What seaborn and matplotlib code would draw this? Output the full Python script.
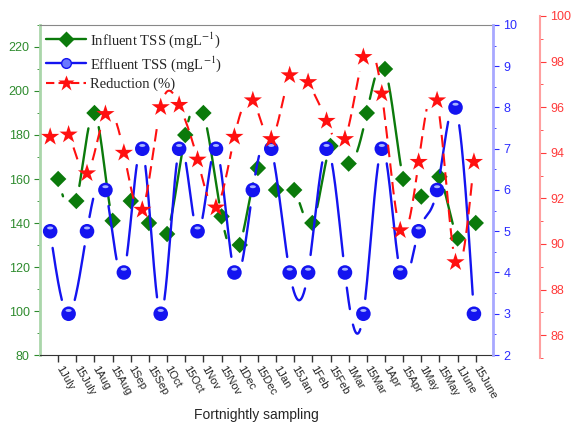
import numpy as np
import matplotlib
matplotlib.use("Agg")
import matplotlib.pyplot as plt
import seaborn as sns
from matplotlib.lines import Line2D
from matplotlib.path import Path
from matplotlib.ticker import MultipleLocator

# -----------------------------
# Data
# -----------------------------
dates = ["1July", "15July", "1Aug", "15Aug", "1Sep", "15Sep", "1Oct", "15Oct",
         "1Nov", "15Nov", "1Dec", "15Dec", "1Jan", "15Jan", "1Feb", "15Feb",
         "1Mar", "15Mar", "1Apr", "15Apr", "1May", "15May", "1June", "15June"]
influent = [160, 150, 190, 141, 150, 140, 135, 180, 190, 143, 130, 165,
            155, 155, 140, 175, 167, 190, 210, 160, 152, 161, 133, 140]
effluent = [5, 3, 5, 6, 4, 7, 3, 7, 5, 7, 4, 6,
            7, 4, 4, 7, 4, 3, 7, 4, 5, 6, 8, 3]
reduction = [94.7, 94.8, 93.1, 95.7, 94.0, 91.5, 96.0, 96.1, 93.7, 91.6, 94.7, 96.3,
             94.6, 97.4, 97.1, 95.4, 94.6, 98.2, 96.6, 90.6, 93.6, 96.3, 89.2, 93.6]

GREEN = "#0b7a0b"
BLUE = "#1414f0"
RED = "#ff1010"

# -----------------------------
# Style
# -----------------------------
sns.set_style("ticks")
plt.rcParams["font.family"] = ["Liberation Sans", "DejaVu Sans"]
plt.rcParams["mathtext.fontset"] = "stix"


def spline(x, y, n=30):
    # natural cubic spline, used only to draw the smooth connecting line
    x = np.asarray(x, float)
    y = np.asarray(y, float)
    h = np.diff(x)
    m = len(x)
    A = np.zeros((m, m))
    r = np.zeros(m)
    A[0, 0] = A[-1, -1] = 1
    for i in range(1, m - 1):
        A[i, i - 1] = h[i - 1]
        A[i, i] = 2 * (h[i - 1] + h[i])
        A[i, i + 1] = h[i]
        r[i] = 3 * ((y[i + 1] - y[i]) / h[i] - (y[i] - y[i - 1]) / h[i - 1])
    c = np.linalg.solve(A, r)
    xs, ys = [], []
    for i in range(m - 1):
        b = (y[i + 1] - y[i]) / h[i] - h[i] * (2 * c[i] + c[i + 1]) / 3
        d = (c[i + 1] - c[i]) / (3 * h[i])
        t = np.linspace(0, h[i], n, endpoint=False)
        xs.append(x[i] + t)
        ys.append(y[i] + b * t + c[i] * t ** 2 + d * t ** 3)
    xs.append([x[-1]])
    ys.append([y[-1]])
    return np.concatenate(xs), np.concatenate(ys)


def gapped(axis, x, y, gap):
    # cut the line near each symbol (Origin "gap to symbol")
    xs, ys = spline(x, y)
    pts = axis.transData.transform(np.column_stack([xs, ys]))
    mk = axis.transData.transform(np.column_stack([x, y]))
    d = np.hypot(pts[:, None, 0] - mk[None, :, 0], pts[:, None, 1] - mk[None, :, 1]).min(axis=1)
    return xs, np.where(d < gap, np.nan, ys)


# highlight marker for the shaded balls
t = np.linspace(0, 2 * np.pi, 40)
hv = np.column_stack([0.42 * np.cos(t), 0.45 + 0.2 * np.sin(t)])
hv = np.vstack([hv, [[1, 1], [-1, -1]]])
hc = [Path.MOVETO] + [Path.LINETO] * 38 + [Path.CLOSEPOLY] + [Path.MOVETO, Path.MOVETO]
shine = Path(hv, hc)

# -----------------------------
# Figure / axes
# -----------------------------
fig = plt.figure(figsize=(5.74, 4.22), dpi=100)
ax = fig.add_axes([40 / 574, 67 / 422, 453 / 574, 330 / 422])
axb = ax.twinx()
axr = fig.add_axes([40 / 574, 64 / 422, 453 / 574, 342 / 422])

xg = np.arange(len(dates))
xs_br = np.linspace(-0.44, 22.9, len(dates))

ax.set_xlim(-1, 23.95)
axr.set_xlim(-1, 23.95)
ax.set_ylim(80, 230)
axb.set_ylim(2, 10)
axr.set_ylim(85, 100)

# ==========================================================
# Lines (drawn first), then symbols
# ==========================================================
gx, gy = gapped(ax, xg, influent, 14)
ax.plot(gx, gy, color=GREEN, lw=1.7, zorder=2)
sns.scatterplot(x=xg, y=influent, ax=ax, marker="D", s=70, color=GREEN,
                edgecolor="none", zorder=3)

bx, by = gapped(axb, xs_br, effluent, 14)
axb.plot(bx, by, color=BLUE, lw=1.7, zorder=2)
sns.scatterplot(x=xs_br, y=effluent, ax=axb, marker="o", s=110, color=BLUE,
                edgecolor="none", zorder=3)
sns.scatterplot(x=xs_br, y=effluent, ax=axb, marker=shine, s=110, color="#a8b4ff",
                edgecolor="none", zorder=4)

rx, ry = gapped(axr, xs_br, reduction, 13)
axr.plot(rx, ry, color=RED, lw=1.5, ls=(0, (6, 3)), zorder=2)
sns.scatterplot(x=xs_br, y=reduction, ax=axr, marker="*", s=190, color=RED,
                edgecolor="none", zorder=3)

# ==========================================================
# Axes styling
# ==========================================================
ax.set_xticks(xg)
ax.set_xticklabels(dates, rotation=-60, ha="left", va="center",
                   rotation_mode="anchor", fontsize=8)
ax.tick_params(axis="x", length=5, width=1, color="#333333", pad=3)
ax.set_xlabel("Fortnightly sampling", fontsize=10)
ax.xaxis.set_label_coords(0.477, -0.16)

ax.yaxis.set_major_locator(MultipleLocator(20))
ax.yaxis.set_minor_locator(MultipleLocator(10))
ax.tick_params(axis="y", which="both", colors="#2e8b2e", labelsize=9, direction="out")
ax.tick_params(axis="y", which="major", length=4)
ax.tick_params(axis="y", which="minor", length=2)
ax.spines["left"].set_color("#aad6aa")
ax.spines["left"].set_linewidth(2)
ax.spines["right"].set_visible(False)
ax.spines["top"].set_color("#888888")
ax.spines["bottom"].set_color("#333333")

axb.yaxis.set_major_locator(MultipleLocator(1))
axb.yaxis.set_minor_locator(MultipleLocator(0.5))
axb.tick_params(axis="y", which="both", colors="#2a2aff", labelsize=9, direction="out")
axb.tick_params(axis="y", which="major", length=4)
axb.tick_params(axis="y", which="minor", length=2)
for s in ["left", "top", "bottom"]:
    axb.spines[s].set_visible(False)
axb.spines["right"].set_color("#a8a8ff")
axb.spines["right"].set_linewidth(2)

axr.patch.set_visible(False)
for s in ["left", "top", "bottom"]:
    axr.spines[s].set_visible(False)
axr.spines["right"].set_position(("outward", 47 * 0.72))
axr.spines["right"].set_color("#ffa0a0")
axr.spines["right"].set_linewidth(1.5)
axr.yaxis.tick_right()
axr.yaxis.set_major_locator(MultipleLocator(2))
axr.yaxis.set_minor_locator(MultipleLocator(1))
axr.tick_params(axis="y", which="both", colors="#ff3a3a", labelsize=9, direction="out")
axr.tick_params(axis="y", which="major", length=4)
axr.tick_params(axis="y", which="minor", length=2)
axr.tick_params(axis="x", which="both", bottom=False, labelbottom=False)
axr.set_ylabel("")
ax.set_ylabel("")
axb.set_ylabel("")

# ==========================================================
# Legend
# ==========================================================
handles = [
    Line2D([], [], color=GREEN, lw=1.7, marker="D", ms=8, mec="none"),
    Line2D([], [], color=BLUE, lw=1.7, marker="o", ms=7, mfc="#6a78ff", mec=BLUE),
    Line2D([], [], color=RED, lw=1.5, ls=(0, (4, 2)), marker="*", ms=12, mec="none"),
]
labels = [r"Influent TSS (mgL$^{-1}$)", r"Effluent TSS (mgL$^{-1}$)", "Reduction (%)"]
axr.legend(handles, labels, loc="upper left", bbox_to_anchor=(-0.005, 0.985),
           frameon=False, handlelength=2.7, handletextpad=0.25, labelspacing=0.3,
           borderaxespad=0.2, prop={"family": "Liberation Serif", "size": 10.5})

plt.savefig("out.png", dpi=100)
